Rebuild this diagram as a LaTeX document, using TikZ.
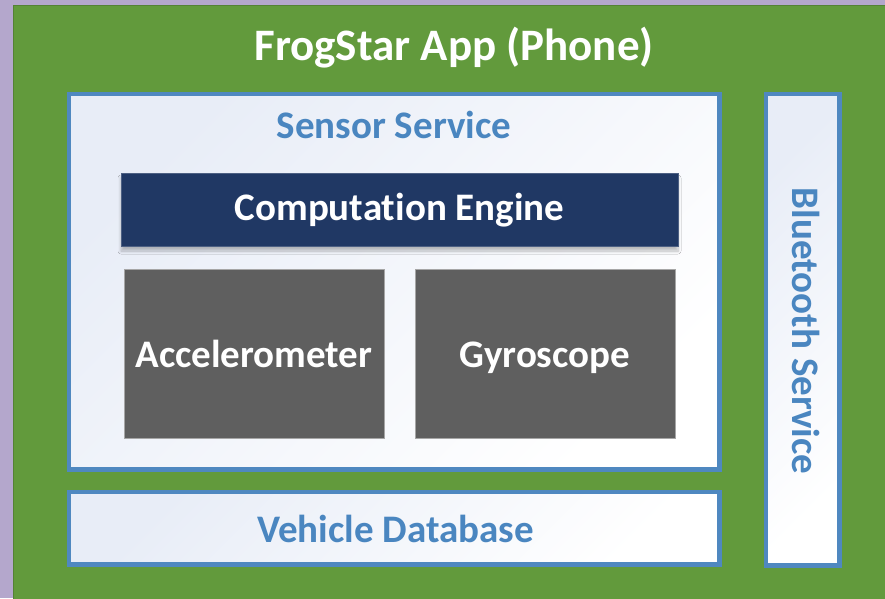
\documentclass[tikz,border=0pt]{standalone}
\usepackage{fontspec}
\setmainfont[Ligatures=NoCommon]{Carlito}
\usetikzlibrary{shadows.blur}
\definecolor{lavender}{HTML}{B4A7CC}
\definecolor{appgreen}{HTML}{629A3C}
\definecolor{appgreendark}{HTML}{548235}
\definecolor{svcblue}{HTML}{4F88C0}
\definecolor{svctext}{HTML}{4A86C0}
\definecolor{paleblue}{HTML}{E8EDF7}
\definecolor{enginenavy}{HTML}{203864}
\definecolor{sensorgray}{HTML}{5F5F5F}
\tikzset{
  x=1pt, y=-1pt,
  svcbox/.style={draw=svcblue, line width=4.5pt, inner sep=0pt,
    shading=axis, left color=paleblue, right color=white, shading angle=45},
  bigtext/.style={font=\bfseries\fontsize{39}{44}\selectfont, inner sep=0pt, anchor=base},
  svclabel/.style={bigtext, text=svctext},
  sensorbox/.style={fill=sensorgray, draw=gray!70, line width=1pt},
  sensorlabel/.style={bigtext, text=white},
}
\begin{document}
\begin{tikzpicture}
  % page
  \fill[lavender] (0,0) rectangle (885,598);
  \useasboundingbox (0,0) rectangle (885,598);
  % phone app area
  \filldraw[fill=appgreen, draw=appgreendark, line width=1.2pt] (13.5,5.5) rectangle (890,603);
  \node[text=white, font=\bfseries\fontsize{45}{52}\selectfont, inner sep=0pt, anchor=base] (app) at (454,60) {FrogStar App (Phone)};

  % sensor service
  \path[svcbox] (69,94) rectangle (719.5,469.5);
  \node[svclabel] (sensor) at (394,138) {Sensor Service};

  % computation engine
  \path[fill=enginenavy, draw=enginenavy!80!white, line width=1pt,
        blur shadow={shadow xshift=0pt, shadow yshift=-5pt, shadow blur steps=8, shadow blur radius=3pt, shadow opacity=25}]
        (121,173) rectangle (678,246);
  \node[sensorlabel] (engine) at (399.5,220) {Computation Engine};

  % sensors
  \path[sensorbox] (124,269.5) rectangle (384,438.5);
  \node[sensorlabel] (accel) at (254,367) {Accelerometer};
  \path[sensorbox] (415,269.5) rectangle (675,438.5);
  \node[sensorlabel] (gyro) at (545,367) {Gyroscope};

  % vehicle database
  \path[svcbox] (69,492) rectangle (719.5,564.5);
  \node[svclabel] (vdb) at (395.5,542) {Vehicle Database};

  % bluetooth service
  \path[svcbox] (766,94) rectangle (839.5,565.5);
  \node[svclabel, rotate=-90] (bt) at (792,331) {Bluetooth Service};
\end{tikzpicture}
\end{document}
